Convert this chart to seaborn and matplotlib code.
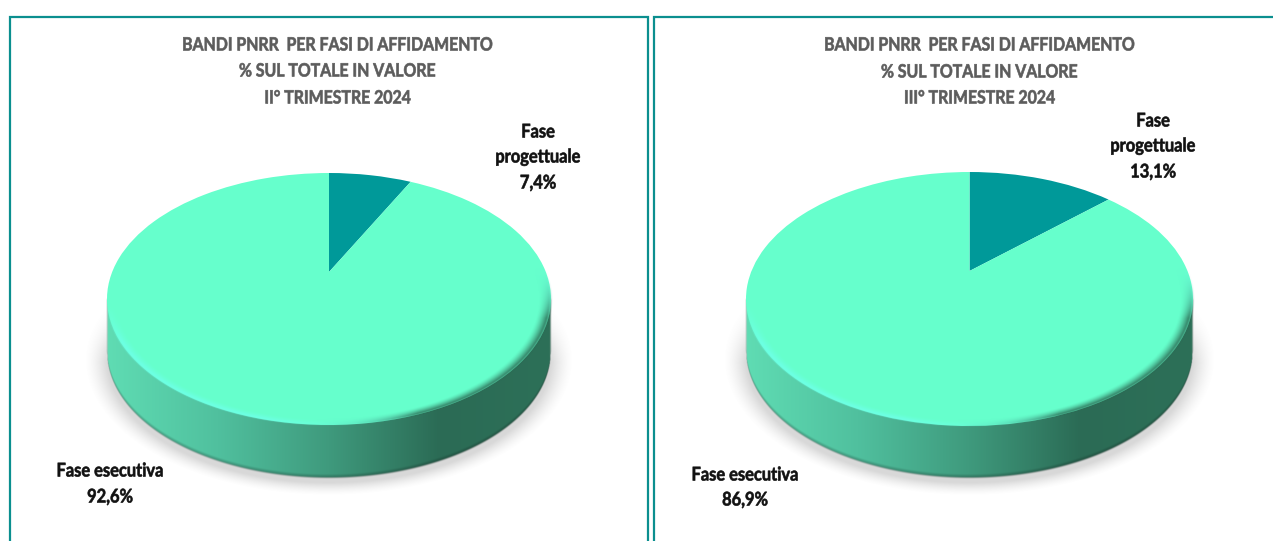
import numpy as np
import seaborn as sns
import matplotlib.pyplot as plt
from matplotlib.patches import Rectangle
from matplotlib.patheffects import AbstractPathEffect
from matplotlib.transforms import Affine2D, Transform

# Chart data
categories = ["Fase progettuale", "Fase esecutiva"]
valori_q2 = [7.4, 92.6]
valori_q3 = [13.1, 86.9]
titoli_base = ["BANDI PNRR  PER FASI DI AFFIDAMENTO", "% SUL TOTALE IN VALORE"]
trimestri = ["II° TRIMESTRE 2024", "III° TRIMESTRE 2024"]

W, H = 1273, 541
TEAL = "#009999"
MINT = "#66FFCC"
BORDER = "#0B8F8F"

sns.set_theme(style="white")
plt.rcParams["font.family"] = ["Lato", "DejaVu Sans"]
side_cmap = sns.blend_palette(["#5fdcb3", "#50c09e", "#3f9a7d", "#2b6b55", "#2d7058"], as_cmap=True)


class Tilt(Transform):
    # perspective map that keeps the unit circle but moves its centre up
    input_dims = output_dims = 2

    def __init__(self, b):
        super().__init__()
        self.b = b

    def transform_non_affine(self, values):
        x, y = np.asarray(values).T
        d = 1 + self.b * y
        return np.column_stack([x * np.sqrt(1 - self.b ** 2) / d, (y + self.b) / d])


class Narrow(AbstractPathEffect):
    # the reference font is condensed and heavier, none of the installed ones is
    def __init__(self, sx, stroke=0.45):
        super().__init__()
        self.sx = sx
        self.stroke = stroke

    def draw_path(self, renderer, gc, tpath, affine, rgbFace=None):
        ext = tpath.get_extents()
        mid = (ext.x0 + ext.x1) / 2
        squeeze = Affine2D().translate(-mid, 0).scale(self.sx, 1).translate(mid, 0)
        gc.set_linewidth(self.stroke)
        renderer.draw_path(gc, tpath, squeeze + affine, rgbFace)


def soft(v, w):
    return np.clip(0.5 + v / w, 0, 1)


def draw_panel(fig, values, box, cx, cy, rx, ry, apex_y, depth):
    l, r, t, b = box
    ax = fig.add_axes([l / W, 1 - b / H, (r - l) / W, (b - t) / H])
    xlim = ((l - cx) / rx, (r - cx) / rx)
    ylim = ((cy - b) / ry, (cy - t) / ry)
    d = depth / ry

    xs = np.linspace(xlim[0], xlim[1], (r - l) * 2)
    ys = np.linspace(ylim[0], ylim[1], (b - t) * 2)
    x, y = np.meshgrid(xs, ys)
    px = 1 / ry

    # soft ground shadow
    rad = np.sqrt((x / 1.02) ** 2 + (y + d + 0.06) ** 2)
    shadow = 0.30 * np.clip((1.08 - rad) / 0.10, 0, 1) ** 1.5 * np.clip(-y / 0.5, 0, 1)
    under = np.zeros(x.shape + (4,))
    under[..., :3] = 0.5
    under[..., 3] = shadow

    # side of the cylinder, shaded left to right, a bit darker on its lower edge
    low = -np.sqrt(np.clip(1 - x ** 2, 0, 1)) - d
    mask = soft(y - low, 2 * px) * soft(-y, 2 * px) * soft(1 - np.abs(x), 0.008)
    rgb = side_cmap((x + 1) / 2)[..., :3]
    rgb = rgb * (1 - 0.3 * np.clip(1 - (y - low) / (4 * px), 0, 1))[..., None]
    under[..., :3] = under[..., :3] * (1 - mask[..., None]) + rgb * mask[..., None]
    under[..., 3] = shadow * (1 - mask) + mask
    ax.imshow(under, extent=xlim + ylim, origin="lower", aspect="auto", zorder=1, interpolation="bilinear")

    wedges, _ = ax.pie(values, colors=[TEAL, MINT], startangle=90, counterclock=False,
                       wedgeprops={"linewidth": 0})
    tilt = Tilt((cy - apex_y) / ry)
    for w in wedges:
        w.set_transform(tilt + ax.transData)
        w.set_zorder(2)

    # rim bevel: bright on the lower left, dark on the lower right
    rad = np.sqrt(x ** 2 + y ** 2)
    edge = soft(1.0 - rad, 2 * px)
    dark = np.clip((x + 0.05) / 0.45, 0, 1) * np.clip((0.25 - y) / 0.4, 0, 1)
    light = np.clip((0.1 - x) / 0.4, 0, 1) * np.clip((-0.05 - y) / 0.3, 0, 1)
    band_dark = np.clip((rad - 0.945) / 0.055, 0, 1) ** 1.5 * edge
    band_light = np.clip((rad - 0.95) / 0.05, 0, 1) ** 1.5 * edge
    over = np.zeros(x.shape + (4,))
    over[..., 0] = 0.17 * dark + 0.44 * (1 - dark)
    over[..., 1] = 0.42 * dark + 1.00 * (1 - dark)
    over[..., 2] = 0.33 * dark + 0.94 * (1 - dark)
    over[..., 3] = np.clip(band_dark * dark + band_light * light * 0.9, 0, 1)
    ax.imshow(over, extent=xlim + ylim, origin="lower", aspect="auto", zorder=3, interpolation="bilinear")

    ax.set_xlim(xlim)
    ax.set_ylim(ylim)
    ax.set_aspect("auto")
    ax.axis("off")
    ax.patch.set_alpha(0)
    return ax


def fig_text(fig, x, y, s, **kw):
    fig.text(x / W, 1 - y / H, s, ha="center", va="center", **kw)


def pct(v):
    return f"{v:.1f}%".replace(".", ",")


fig = plt.figure(figsize=(W / 100, H / 100), dpi=100, facecolor="white")

# panel frames run off the bottom of the picture
fig.add_artist(Rectangle((9.5 / W, -0.02), 639 / W, 1 - 16.5 / H + 0.02, transform=fig.transFigure,
                         fill=False, edgecolor=BORDER, linewidth=1.6))
fig.add_artist(Rectangle((654 / W, -0.02), 640 / W, 1 - 16.5 / H + 0.02, transform=fig.transFigure,
                         fill=False, edgecolor=BORDER, linewidth=1.6))

draw_panel(fig, valori_q2, (70, 590, 150, 520), 329, 299, 222, 126, 272, 53)
draw_panel(fig, valori_q3, (710, 1230, 150, 520), 969.5, 299, 223.5, 127, 271, 52)

title_style = dict(fontsize=13.2, fontweight="bold", color="#5c5c5c", path_effects=[Narrow(0.865)])
label_style = dict(fontsize=13.6, fontweight="bold", color="#111111", path_effects=[Narrow(0.87)])

for cx, ys, trim in zip([338, 980], [[45, 71, 98], [45, 72, 98]], trimestri):
    for yy, line in zip(ys, titoli_base + [trim]):
        fig_text(fig, cx, yy, line, **title_style)

prog_a, prog_b = categories[0].split(" ")
fig_text(fig, 538, 132, prog_a, **label_style)
fig_text(fig, 538, 157, prog_b, **label_style)
fig_text(fig, 538, 183, pct(valori_q2[0]), **label_style)
fig_text(fig, 110, 471, categories[1], **label_style)
fig_text(fig, 110, 497, pct(valori_q2[1]), **label_style)

fig_text(fig, 1153, 121, prog_a, **label_style)
fig_text(fig, 1153, 146, prog_b, **label_style)
fig_text(fig, 1153, 172, pct(valori_q3[0]), **label_style)
fig_text(fig, 745, 475, categories[1], **label_style)
fig_text(fig, 745, 500, pct(valori_q3[1]), **label_style)

fig.savefig("out.png", dpi=100)
